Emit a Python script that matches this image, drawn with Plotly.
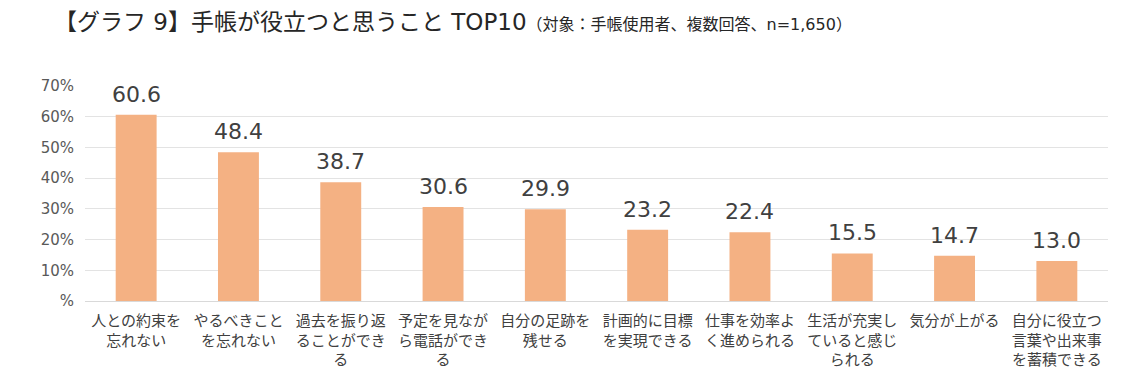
import plotly.graph_objects as go

categories = [
    "人との約束を<br>忘れない",
    "やるべきこと<br>を忘れない",
    "過去を振り返<br>ることができ<br>る",
    "予定を見なが<br>ら電話ができ<br>る",
    "自分の足跡を<br>残せる",
    "計画的に目標<br>を実現できる",
    "仕事を効率よ<br>く進められる",
    "生活が充実し<br>ていると感じ<br>られる",
    "気分が上がる",
    "自分に役立つ<br>言葉や出来事<br>を蓄積できる",
]
values = [60.6, 48.4, 38.7, 30.6, 29.9, 23.2, 22.4, 15.5, 14.7, 13.0]
tick_vals = [0, 10, 20, 30, 40, 50, 60, 70]
tick_text = ["%", "10%", "20%", "30%", "40%", "50%", "60%", "70%"]

CJK = "Noto Sans CJK JP"
MIX = "DejaVu Sans, Noto Sans CJK JP"

fig = go.Figure(go.Bar(
    x=categories,
    y=values,
    marker=dict(color="#F4B183", line=dict(width=0)),
    cliponaxis=False,
    hoverinfo="x+y",
))

for c, v in zip(categories, values):
    fig.add_annotation(
        x=c, y=v, text=f"{v:.1f}", showarrow=False,
        xanchor="center", yanchor="bottom", yshift=6,
        font=dict(size=22, color="#404040", family="DejaVu Sans"),
    )

fig.update_layout(
    width=1133, height=381,
    margin=dict(l=77, r=33, t=78, b=88, autoexpand=False),
    paper_bgcolor="white", plot_bgcolor="white",
    bargap=0.6,
    showlegend=False,
    font=dict(family=CJK, color="#404040"),
    title=dict(
        text="【グラフ 9】手帳が役立つと思うこと TOP10<span style='font-size:16px'>（対象：手帳使用者、複数回答、n=1,650）</span>",
        x=46/1133, xanchor="left", y=1-14/381, yanchor="middle",
        font=dict(size=23, color="#262626", family=MIX),
        automargin=False,
    ),
    xaxis=dict(
        tickfont=dict(size=15, color="#404040", family=CJK),
        showline=True, linecolor="#d9d9d9", linewidth=1,
        ticks="", tickangle=0, automargin=False,
        ticklabelstandoff=6,
    ),
    yaxis=dict(
        range=[0, 70],
        tickvals=tick_vals, ticktext=tick_text,
        tickfont=dict(size=15, color="#595959", family="DejaVu Sans"),
        showgrid=True, gridcolor="#e3e3e3", gridwidth=1,
        zeroline=False, ticks="", ticklabelstandoff=10,
        automargin=False,
    ),
)

fig.write_html("out.html")
